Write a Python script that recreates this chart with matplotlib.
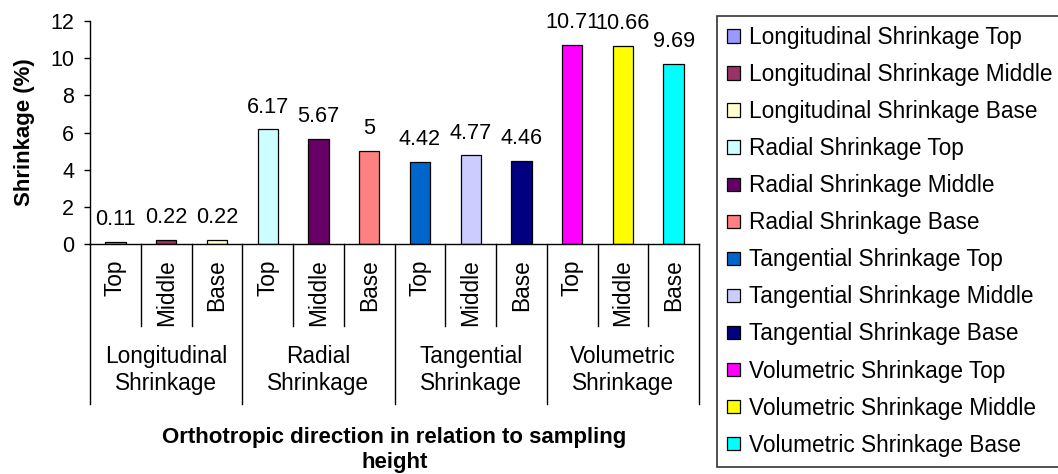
#!/usr/bin/python3

###############################################
#
# global reqs
#
###############################################

import matplotlib
matplotlib.use("Agg")
import matplotlib.pyplot as plt
from matplotlib.patches import Patch
import matplotlib.transforms as mtransforms
import numpy as np


###############################################
#
# data
#
###############################################

groups = ["Longitudinal\nShrinkage", "Radial\nShrinkage",
          "Tangential\nShrinkage", "Volumetric\nShrinkage"]
heights = ["Top", "Middle", "Base"]
series_names = ["Longitudinal Shrinkage Top", "Longitudinal Shrinkage Middle",
                "Longitudinal Shrinkage Base", "Radial Shrinkage Top",
                "Radial Shrinkage Middle", "Radial Shrinkage Base",
                "Tangential Shrinkage Top", "Tangential Shrinkage Middle",
                "Tangential Shrinkage Base", "Volumetric Shrinkage Top",
                "Volumetric Shrinkage Middle", "Volumetric Shrinkage Base"]
values = [0.11, 0.22, 0.22, 6.17, 5.67, 5, 4.42, 4.77, 4.46, 10.71, 10.66, 9.69]
colors = ["#9999FF", "#993366", "#FFFFCC", "#CCFFFF", "#660066", "#FF8080",
          "#0066CC", "#CCCCFF", "#000080", "#FF00FF", "#FFFF00", "#00FFFF"]


###############################################
#
# main
#
###############################################

plt.rcParams["font.family"] = ["Liberation Sans", "DejaVu Sans"]
fs = 16.3

fig = plt.figure(figsize=(10.58, 4.74), dpi=100)
ax = fig.add_axes([0.0851, 0.4852, 0.5756, 0.4705])

n = len(values)
x = np.arange(n)
ax.bar(x, values, width=0.4, color=colors, edgecolor="black", linewidth=0.9)

# data labels
for xi, v in zip(x, values):
    ax.annotate("%g" % v, (xi, v), xytext=(0, 12), textcoords="offset points",
                ha="center", va="baseline", fontsize=15.6)

# axes
ax.set_xlim(-0.5, n - 0.5)
ax.set_ylim(0, 12)
ax.set_yticks(range(0, 13, 2))
ax.tick_params(axis="y", length=4.5, width=1, pad=7, labelsize=15.5)
for s in ["top", "right"]:
    ax.spines[s].set_visible(False)
ax.spines["left"].set_linewidth(1)
ax.spines["bottom"].set_linewidth(1)

# inner category labels
ax.set_xticks(x)
ax.set_xticklabels(heights * len(groups), rotation=90, fontsize=fs)
ax.tick_params(axis="x", length=0, pad=11)

# category separators
trans = mtransforms.blended_transform_factory(ax.transData, ax.transAxes)
for k in range(n + 1):
    bottom = -0.717 if k % 3 == 0 else -0.368
    ax.plot([k - 0.5, k - 0.5], [0, bottom], color="black", lw=1,
            transform=trans, clip_on=False)

# group labels
for gi, g in enumerate(groups):
    ax.text(gi * 3 + 1, -0.565, g, transform=trans, ha="center", va="center",
            fontsize=fs, linespacing=1.25)

# axis titles
ax.set_xlabel("Orthotropic direction in relation to sampling\nheight",
              fontsize=16, fontweight="bold", linespacing=1.22)
ax.xaxis.label.set_va("center")
ax.xaxis.set_label_coords(0.5, -0.924)
ax.set_ylabel("Shrinkage (%)", fontsize=16, fontweight="bold")
ax.yaxis.label.set_va("center")
ax.yaxis.set_label_coords(-0.108, 0.5)

# legend
handles = [Patch(facecolor=c, edgecolor="black", linewidth=0.9) for c in colors]
leg = fig.legend(handles, series_names, loc="upper left",
                 bbox_to_anchor=(0.6777, 0.9662), borderaxespad=0,
                 fontsize=fs, frameon=True, fancybox=False,
                 handlelength=0.55, handleheight=0.55, handletextpad=0.4,
                 labelspacing=0.62, borderpad=0.45)
leg.get_frame().set_edgecolor("black")
leg.get_frame().set_linewidth(1.2)

plt.savefig("out.png", dpi=100)
